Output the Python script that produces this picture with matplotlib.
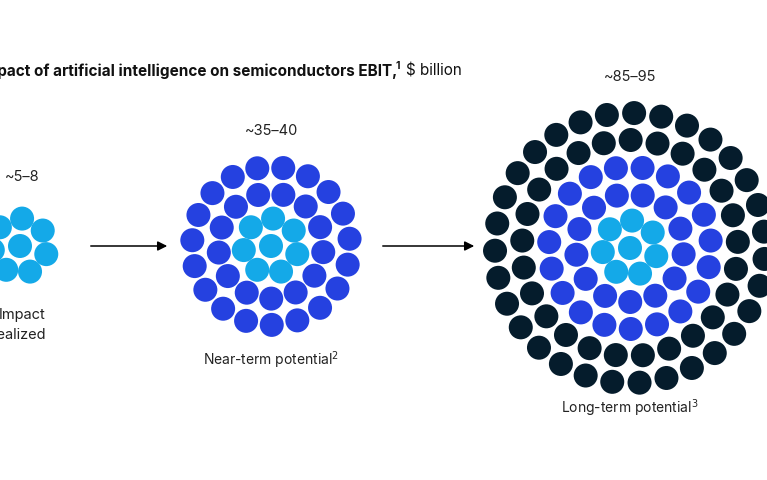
import matplotlib
matplotlib.use("Agg")
import matplotlib.pyplot as plt
from matplotlib.patches import Circle
import numpy as np

plt.rcParams['font.family'] = ['Inter', 'DejaVu Sans']

light = '#14a9e8'
blue = '#2541e0'
dark = '#051c2c'

# dots per ring, from the centre outward, and ring colours
ring_counts = [1, 7, 13, 19, 25, 31]
small_colors = [light, light]
near_colors = [light, light, blue, blue]
long_colors = [light, light, blue, blue, dark, dark]

values = ['~5–8', '~35–40', '~85–95']
labels = ['Impact\nrealized', 'Near-term potential$^2$', 'Long-term potential$^3$']


def cluster(ax, cx, cy, colors, step=26.3, r=12.0):
    for k, col in enumerate(colors):
        n = ring_counts[k]
        rad = 0 if k == 0 else (27.5 if k == 1 else step * k)
        off = 0.3 * k
        for i in range(n):
            a = 2 * np.pi * i / n + off
            ax.add_patch(Circle((cx + rad * np.cos(a), cy + rad * np.sin(a)), r,
                                color=col, lw=0))


fig = plt.figure(figsize=(7.67, 4.8), dpi=100)
ax = fig.add_axes([0, 0, 1, 1])
ax.set_xlim(0, 767)
ax.set_ylim(480, 0)
ax.axis('off')

cluster(ax, 20, 246, small_colors)
cluster(ax, 271, 246, near_colors)
cluster(ax, 630, 248, long_colors, step=27)

for x0, x1 in [(88, 170), (380, 477)]:
    ax.annotate('', xy=(x1, 246), xytext=(x0, 246),
                arrowprops=dict(arrowstyle='-|>', color='black', lw=1.1,
                                mutation_scale=14))

ax.text(-21, 71, 'Impact of artificial intelligence on semiconductors EBIT,',
        fontsize=11, fontweight='bold', va='center', color='#111111')
ax.text(396, 66, '1', fontsize=7.5, fontweight='bold', va='center', color='#111111')
ax.text(406, 71, '$ billion', fontsize=11, va='center', color='#111111')

ax.text(22, 177, values[0], fontsize=10.5, ha='center', va='center', color='#222222')
ax.text(271, 131, values[1], fontsize=10.5, ha='center', va='center', color='#222222')
ax.text(630, 77, values[2], fontsize=10.5, ha='center', va='center', color='#222222')

ax.text(46, 325, labels[0], fontsize=10.5, ha='right', va='center', color='#222222',
        linespacing=1.5)
ax.text(271, 360, labels[1], fontsize=10, ha='center', va='center', color='#222222')
ax.text(630, 408, labels[2], fontsize=10, ha='center', va='center', color='#222222')

fig.savefig('out.png', dpi=100)
